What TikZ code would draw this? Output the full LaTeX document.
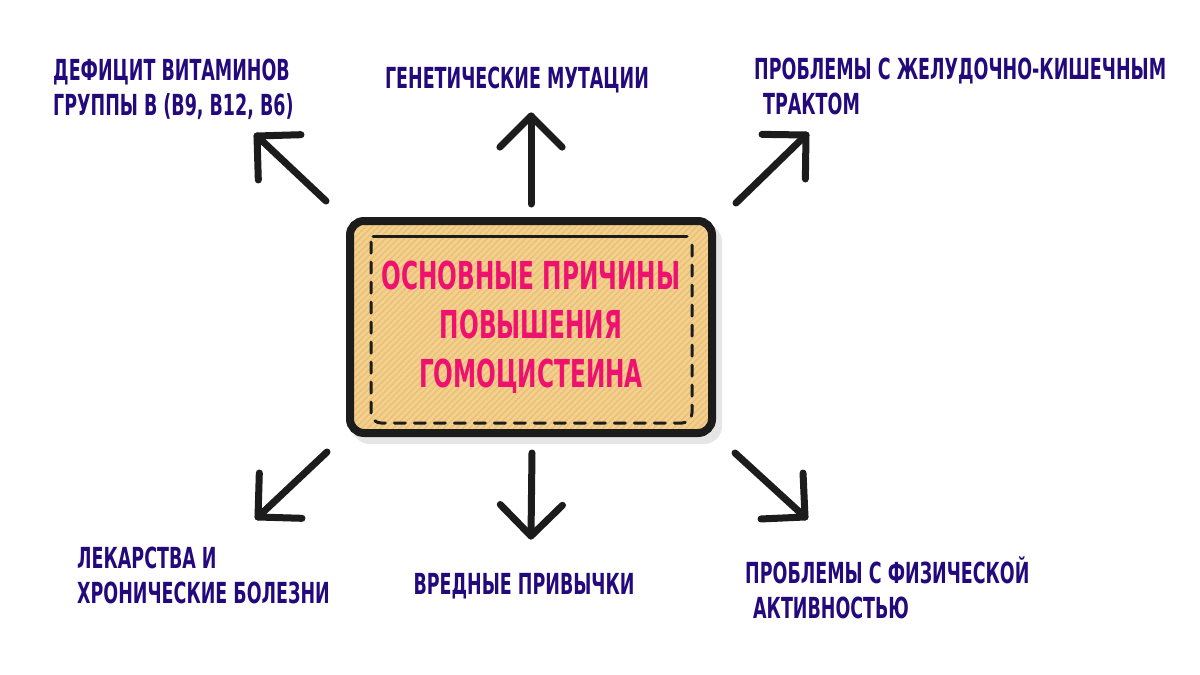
\documentclass[tikz,border=0pt]{standalone}
\usepackage{fontspec}
\newfontfamily\labfont{DejaVu Sans Condensed}[FakeStretch=0.67]
\usetikzlibrary{calc,patterns.meta}
\definecolor{navy}{HTML}{24097C}
\definecolor{hot}{HTML}{EE1170}
\definecolor{tan}{HTML}{F4D08D}
\definecolor{stripe}{HTML}{E8BE78}
\definecolor{ink}{HTML}{1C1C1C}
\tikzset{
  lab/.style={font=\labfont\bfseries\fontsize{29}{35}\selectfont, text=navy, inner sep=0pt, align=left, anchor=north west},
  arr/.style={draw=ink, line width=7pt, line cap=round, line join=round},
  frame/.style={draw=ink, line width=3pt, line cap=round},
}
\begin{document}
\begin{tikzpicture}[x=1pt,y=-1pt]
\useasboundingbox[fill=white] (0,0) rectangle (1200,675);
% shadow
\fill[black!10, rounded corners=18pt] (352,224) rectangle (722,444);
% box
\node[minimum width=362pt, minimum height=212pt, rounded corners=14pt,
      draw=ink, line width=8pt,
      preaction={fill=tan},
      preaction={pattern={Lines[angle=45, distance=4.5pt, line width=1.3pt]}, pattern color=stripe},
      font=\labfont\bfseries\fontsize{38.5}{49}\selectfont, text=hot, align=center]
  (box) at (531,327) {ОСНОВНЫЕ ПРИЧИНЫ\\ПОВЫШЕНИЯ\\ГОМОЦИСТЕИНА};
% inner frame
\draw[frame] (373,236) -- (687,236);
\draw[frame, dash pattern=on 11pt off 9pt, rounded corners=10pt] (371,242) -- (371,423) -- (692,423) -- (692,242);
% arrows
\coordinate (t1) at (326,201); \coordinate (h1) at (257,136);
\coordinate (t2) at (531,204); \coordinate (h2) at (531,116);
\coordinate (t3) at (736,203); \coordinate (h3) at (806,135);
\coordinate (t4) at (327,452); \coordinate (h4) at (258,517);
\coordinate (t5) at (532,453); \coordinate (h5) at (531,536);
\coordinate (t6) at (735,453); \coordinate (h6) at (805,517);
\foreach \i in {1,...,6}{
  \draw[arr] (t\i) -- (h\i);
  \draw[arr] ($(h\i)!44pt!45:(t\i)$) -- (h\i) -- ($(h\i)!44pt!-45:(t\i)$);
}
% labels
\node[lab] (l1) at (53,59) {ДЕФИЦИТ ВИТАМИНОВ\\ГРУППЫ В (В9, В12, В6)};
\node[lab, anchor=center] (l2) at (517,80) {ГЕНЕТИЧЕСКИЕ МУТАЦИИ};
\node[lab] (l3) at (754,58) {ПРОБЛЕМЫ С ЖЕЛУДОЧНО-КИШЕЧНЫМ\\\hspace*{9pt}ТРАКТОМ};
\node[lab] (l4) at (77,547) {ЛЕКАРСТВА И\\ХРОНИЧЕСКИЕ БОЛЕЗНИ};
\node[lab, anchor=center] (l5) at (524,586) {ВРЕДНЫЕ ПРИВЫЧКИ};
\node[lab] (l6) at (745,556) {ПРОБЛЕМЫ С ФИЗИЧЕСКОЙ\\\hspace*{8pt}АКТИВНОСТЬЮ};
\end{tikzpicture}
\end{document}
